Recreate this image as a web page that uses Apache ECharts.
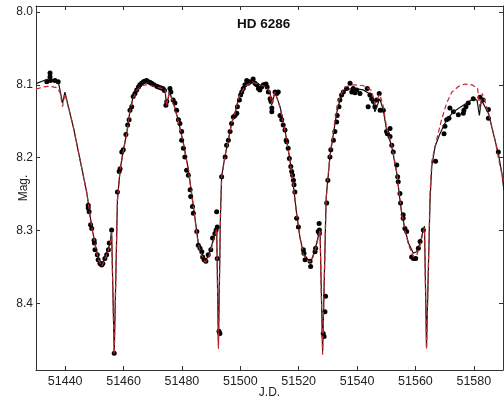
<!DOCTYPE html>
<html>
<head>
<meta charset="utf-8">
<script src="https://cdn.jsdelivr.net/npm/echarts@6.0.0/dist/echarts.min.js"></script>
<style>
html,body{margin:0;padding:0;background:#fff;}
#chart{width:504px;height:400px;}
</style>
</head>
<body>
<div id="chart"></div>
<script>
const chartTitle = "HD 6286";
const xName = "J.D.";
const yName = "Mag.";
const xTicks = [51440, 51460, 51480, 51500, 51520, 51540, 51560, 51580];
const yTicks = [8.0, 8.1, 8.2, 8.3, 8.4];

const blackModel = [[51430.2,8.098],[51434.8,8.091],[51437.7,8.097],[51439.1,8.125],[51439.9,8.110],[51442.8,8.158],[51445.1,8.203],[51447.4,8.248],[51449.1,8.295],[51450.2,8.317],[51451.3,8.337],[51452.5,8.347],[51453.6,8.337],[51455.4,8.317],[51455.9,8.299],[51456.8,8.468],[51457.9,8.258],[51458.8,8.217],[51459.9,8.190],[51461.1,8.166],[51462.2,8.135],[51463.3,8.116],[51464.5,8.105],[51466.2,8.097],[51467.9,8.096],[51470.2,8.099],[51473.1,8.103],[51474.2,8.104],[51474.7,8.130],[51475.7,8.110],[51477.0,8.123],[51478.7,8.148],[51480.5,8.180],[51482.2,8.216],[51483.9,8.266],[51485.6,8.317],[51486.8,8.331],[51487.9,8.340],[51489.0,8.336],[51490.7,8.313],[51491.9,8.296],[51492.5,8.457],[51493.2,8.279],[51493.6,8.226],[51494.7,8.199],[51495.9,8.176],[51497.0,8.153],[51498.2,8.139],[51499.3,8.121],[51500.5,8.110],[51502.2,8.100],[51504.4,8.096],[51506.7,8.100],[51509.0,8.103],[51510.2,8.110],[51510.7,8.128],[51511.9,8.110],[51513.6,8.130],[51515.3,8.162],[51517.0,8.203],[51518.1,8.235],[51519.3,8.277],[51520.4,8.308],[51521.6,8.331],[51523.3,8.340],[51524.4,8.340],[51525.6,8.326],[51526.7,8.308],[51527.3,8.297],[51528.2,8.466],[51529.4,8.256],[51530.7,8.199],[51531.9,8.167],[51533.0,8.139],[51534.1,8.121],[51535.9,8.107],[51538.7,8.105],[51542.1,8.107],[51545.0,8.114],[51546.1,8.137],[51547.8,8.119],[51549.0,8.135],[51550.1,8.162],[51551.9,8.185],[51553.6,8.221],[51554.7,8.258],[51555.3,8.276],[51556.5,8.299],[51557.6,8.317],[51559.3,8.331],[51560.4,8.329],[51561.6,8.317],[51562.7,8.299],[51563.1,8.294],[51563.8,8.459],[51565.0,8.258],[51565.6,8.212],[51566.7,8.185],[51568.4,8.167],[51570.7,8.148],[51573.0,8.137],[51576.4,8.128],[51579.8,8.119],[51581.1,8.121],[51581.9,8.142],[51582.6,8.121],[51583.2,8.119],[51585.0,8.139],[51586.7,8.167],[51588.4,8.194],[51589.6,8.221],[51590.3,8.244]];

const redModel = [[51430.0,8.106],[51432.5,8.103],[51434.8,8.102],[51437.0,8.104],[51438.2,8.110],[51439.1,8.130],[51439.9,8.112],[51442.8,8.158],[51445.1,8.203],[51447.4,8.248],[51449.1,8.296],[51450.2,8.318],[51451.3,8.339],[51452.5,8.349],[51453.6,8.340],[51455.4,8.320],[51455.9,8.302],[51456.8,8.470],[51457.9,8.258],[51458.8,8.218],[51459.9,8.191],[51461.1,8.167],[51462.2,8.137],[51463.3,8.119],[51464.5,8.108],[51466.2,8.101],[51467.9,8.100],[51470.2,8.102],[51473.1,8.105],[51474.2,8.106],[51474.7,8.128],[51475.7,8.111],[51477.0,8.124],[51478.7,8.149],[51480.5,8.181],[51482.2,8.217],[51483.9,8.267],[51485.6,8.319],[51486.8,8.334],[51487.9,8.343],[51489.0,8.339],[51490.7,8.316],[51491.9,8.298],[51492.5,8.462],[51493.2,8.280],[51493.6,8.227],[51494.7,8.199],[51495.9,8.176],[51497.0,8.153],[51498.2,8.138],[51499.3,8.120],[51500.5,8.109],[51502.2,8.100],[51504.4,8.097],[51506.7,8.100],[51509.0,8.103],[51510.2,8.110],[51510.7,8.126],[51511.9,8.110],[51513.6,8.131],[51515.3,8.163],[51517.0,8.204],[51518.1,8.236],[51519.3,8.278],[51520.4,8.309],[51521.6,8.333],[51523.3,8.342],[51524.4,8.342],[51525.6,8.328],[51526.7,8.310],[51527.3,8.299],[51528.2,8.470],[51529.4,8.256],[51530.7,8.197],[51531.9,8.163],[51533.0,8.134],[51534.1,8.116],[51535.9,8.103],[51538.7,8.100],[51542.1,8.101],[51545.0,8.108],[51546.1,8.126],[51547.8,8.113],[51549.0,8.130],[51550.1,8.158],[51551.9,8.183],[51553.6,8.220],[51554.7,8.258],[51555.3,8.277],[51556.5,8.300],[51557.6,8.319],[51559.3,8.336],[51560.4,8.334],[51561.6,8.320],[51562.7,8.301],[51563.1,8.296],[51563.8,8.463],[51565.0,8.250],[51565.6,8.205],[51567.1,8.178],[51568.8,8.150],[51570.7,8.125],[51572.5,8.110],[51574.8,8.102],[51577.1,8.099],[51579.4,8.100],[51581.3,8.105],[51582.1,8.132],[51582.9,8.112],[51584.0,8.125],[51585.6,8.148],[51587.3,8.176],[51588.4,8.200],[51590.3,8.235]];

const observed = [[51433.7,8.096],[51434.8,8.084],[51434.8,8.089],[51435.0,8.094],[51436.5,8.094],[51437.6,8.096],
[51447.9,8.265],[51447.9,8.269],[51448.2,8.274],[51448.7,8.292],[51449.1,8.297],[51449.9,8.313],[51450.0,8.317],[51450.2,8.326],[51451.0,8.333],[51451.3,8.340],[51451.9,8.345],[51452.5,8.347],[51452.9,8.345],[51453.6,8.338],[51454.2,8.333],[51454.8,8.326],[51455.1,8.317],[51455.9,8.299],[51456.8,8.468],
[51457.9,8.247],[51458.5,8.219],[51458.8,8.215],[51459.4,8.192],[51459.9,8.189],[51460.8,8.168],[51461.4,8.155],[51461.9,8.148],[51462.2,8.135],[51462.8,8.130],[51463.3,8.116],[51463.9,8.112],[51464.5,8.107],[51465.1,8.103],[51465.6,8.100],[51466.2,8.098],[51466.8,8.096],[51467.3,8.095],[51467.9,8.094],[51468.5,8.096],[51469.1,8.097],[51469.6,8.098],[51470.4,8.100],[51471.4,8.102],[51471.9,8.103],[51472.7,8.104],[51473.4,8.105],[51474.0,8.108],[51474.5,8.128],[51474.8,8.123],[51475.9,8.105],[51476.2,8.110],[51477.0,8.121],[51477.6,8.125],[51478.2,8.135],[51478.8,8.148],[51479.3,8.153],[51479.9,8.164],[51479.9,8.176],[51480.5,8.187],[51481.0,8.199],[51481.6,8.217],[51482.2,8.224],[51482.8,8.244],[51483.0,8.253],[51483.6,8.267],[51483.9,8.276],[51485.1,8.301],[51485.6,8.320],[51486.2,8.324],[51486.8,8.329],[51487.1,8.336],[51487.6,8.340],[51488.2,8.342],[51489.0,8.333],[51489.9,8.326],[51490.5,8.310],[51491.3,8.304],[51491.7,8.299],[51491.9,8.274],[51492.1,8.295],[51492.1,8.338],[51492.7,8.438],[51493.0,8.441],
[51493.6,8.226],[51494.8,8.199],[51495.3,8.183],[51495.9,8.176],[51496.5,8.164],[51497.0,8.153],[51497.6,8.144],[51498.2,8.142],[51498.8,8.139],[51499.0,8.130],[51499.7,8.121],[51500.1,8.114],[51500.5,8.110],[51501.0,8.105],[51501.6,8.100],[51502.2,8.094],[51502.7,8.098],[51503.3,8.096],[51504.4,8.092],[51505.0,8.098],[51505.6,8.100],[51506.2,8.105],[51506.7,8.107],[51507.3,8.103],[51507.9,8.100],[51508.8,8.099],[51509.2,8.103],[51509.6,8.110],[51510.2,8.119],[51510.5,8.123],[51510.8,8.132],[51510.8,8.137],[51511.9,8.110],[51512.5,8.112],[51513.0,8.110],[51513.6,8.142],[51514.2,8.148],[51514.7,8.155],[51515.3,8.162],[51515.7,8.176],[51515.9,8.178],[51516.4,8.187],[51516.8,8.201],[51517.3,8.212],[51517.6,8.219],[51517.9,8.224],[51518.2,8.231],[51518.4,8.237],[51518.7,8.247],[51519.3,8.283],[51519.9,8.295],[51521.6,8.326],[51521.8,8.331],[51522.2,8.340],[51523.9,8.342],[51524.1,8.349],[51525.6,8.329],[51525.8,8.324],[51526.7,8.301],[51527.0,8.290],[51527.1,8.299],[51527.1,8.304],[51528.4,8.441],[51528.7,8.445],[51529.0,8.411],[51529.2,8.390],[51529.6,8.262],
[51530.0,8.231],[51530.7,8.199],[51531.0,8.189],[51531.9,8.176],[51532.4,8.164],[51533.0,8.151],[51533.2,8.142],[51533.8,8.130],[51534.1,8.121],[51534.7,8.114],[51535.3,8.110],[51536.4,8.105],[51537.6,8.098],[51538.2,8.110],[51538.7,8.105],[51539.3,8.111],[51539.9,8.107],[51541.0,8.112],[51543.5,8.105],[51543.8,8.130],[51544.4,8.114],[51545.0,8.119],[51545.6,8.123],[51546.1,8.130],[51546.7,8.121],[51547.6,8.112],[51547.9,8.135],[51549.0,8.135],[51550.1,8.164],[51550.4,8.167],[51551.3,8.160],[51551.3,8.171],[51551.9,8.183],[51552.4,8.192],[51553.6,8.210],[51553.9,8.226],[51554.1,8.233],[51554.7,8.249],[51554.9,8.262],[51555.8,8.278],[51555.8,8.283],[51556.4,8.297],[51557.0,8.301],[51558.7,8.336],[51559.3,8.338],[51560.1,8.338],[51561.0,8.324],[51561.6,8.315],[51562.7,8.299],
[51566.9,8.205],[51569.8,8.167],[51570.1,8.157],[51570.7,8.148],[51571.5,8.146],[51571.8,8.132],[51573.0,8.137],[51574.7,8.141],[51576.4,8.139],[51576.6,8.135],[51577.3,8.130],[51578.1,8.125],[51579.8,8.119],[51582.1,8.117],[51583.2,8.121],[51585.0,8.134],[51585.0,8.146],[51588.4,8.192]];

const textColor = '#222';
const lineColor = '#333';
const fontFam = '"Liberation Sans", Arial, Helvetica, sans-serif';

const chart = echarts.init(document.getElementById('chart'), null, {renderer: 'canvas'});

function xAxisCfg(pos, showLabels) {
  return {
    type: 'value', position: pos, min: 51430, max: 51590,
    axisLine: {show: true, onZero: false, lineStyle: {color: lineColor, width: 1}},
    axisTick: {show: true, inside: true, length: 4, customValues: xTicks, lineStyle: {color: lineColor}},
    axisLabel: {show: showLabels, customValues: xTicks, color: textColor, fontSize: 12.5, fontFamily: fontFam, margin: 5,
      formatter: function (v) { return String(Math.round(v)); }},
    splitLine: {show: false},
    name: showLabels ? xName : '', nameLocation: 'middle', nameGap: 17, nameMoveOverlap: false,
    nameTextStyle: {color: textColor, fontSize: 12, fontFamily: fontFam}
  };
}
function yAxisCfg(pos, showLabels) {
  return {
    type: 'value', position: pos, min: 7.992, max: 8.491, inverse: true,
    axisLine: {show: true, onZero: false, lineStyle: {color: lineColor, width: 1}},
    axisTick: {show: true, inside: true, length: 4, customValues: yTicks, lineStyle: {color: lineColor}},
    axisLabel: {show: showLabels, customValues: yTicks, color: textColor, fontSize: 12, fontFamily: fontFam, margin: 3,
      formatter: function (v) { return v.toFixed(1); }},
    splitLine: {show: false},
    name: showLabels ? yName : '', nameLocation: 'middle', nameGap: 6, nameRotate: 90, nameMoveOverlap: false,
    nameTextStyle: {color: textColor, fontSize: 12, fontFamily: fontFam}
  };
}

chart.setOption({
  animation: false,
  backgroundColor: '#fff',
  title: {text: chartTitle, left: 237, top: 17, padding: 0,
    textStyle: {color: '#111', fontSize: 13.5, fontWeight: 'bold', fontFamily: fontFam}},
  grid: {left: 36, right: 1, top: 6, bottom: 30, containLabel: false, outerBoundsMode: 'none'},
  xAxis: [xAxisCfg('bottom', true), xAxisCfg('top', false)],
  yAxis: [yAxisCfg('left', true), yAxisCfg('right', false)],
  series: [
    {type: 'scatter', data: observed, symbol: 'circle', symbolSize: 5,
      itemStyle: {color: '#000', opacity: 1}, z: 2},
    {type: 'line', data: blackModel, showSymbol: false, symbol: 'none', smooth: false,
      lineStyle: {color: '#111', width: 1.2}, z: 3},
    {type: 'line', data: redModel, showSymbol: false, symbol: 'none', smooth: false,
      lineStyle: {color: '#c4262e', width: 1.2, type: [5, 3]}, z: 4}
  ]
});
</script>
</body>
</html>
